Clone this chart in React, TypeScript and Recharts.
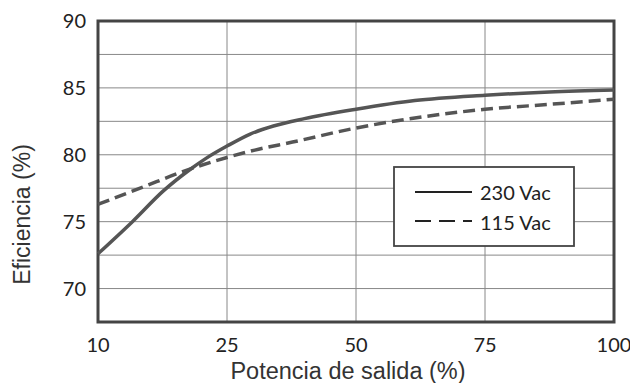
import { LineChart, Line, XAxis, YAxis, CartesianGrid, ReferenceArea, Legend, Label } from 'recharts';

// tick labels shown on the axes
const xTicks = [10, 25, 50, 75, 100];
const yTicks = [67.5, 70, 72.5, 75, 77.5, 80, 82.5, 85, 87.5, 90];

// 230 Vac curve (salida %, eficiencia %)
const load230 = [10, 14, 17.6, 20.7, 22.6, 25, 29.5, 34, 40, 50, 61.4, 75, 87.5, 100];
const eff230 = [72.6, 75.0, 77.3, 78.9, 79.75, 80.65, 81.55, 82.15, 82.7, 83.4, 84.05, 84.45, 84.7, 84.85];

// 115 Vac curve
const load115 = [10, 14.9, 20.1, 25, 30.4, 37.7, 50, 61.4, 75, 87.9, 100];
const eff115 = [76.3, 77.5, 78.8, 79.8, 80.35, 80.95, 82.0, 82.75, 83.4, 83.78, 84.15];

const LINE_COLOR = '#555';
const TICK_FONT = 'Lato, "Open Sans", sans-serif';
const TITLE_FONT = '"Liberation Sans", Arial, sans-serif';

// the x axis draws its ticks evenly spaced, so map a load % onto tick-index units
function toPos(load: number) {
  for (let i = 0; i < xTicks.length - 1; i++) {
    const a = xTicks[i];
    const b = xTicks[i + 1];
    if (load <= b) return i + (load - a) / (b - a);
  }
  return xTicks.length - 1;
}

const series = [
  { name: '230 Vac', data: load230.map((l, i) => ({ pos: toPos(l), eff: eff230[i] })), dash: undefined, legendDash: undefined },
  { name: '115 Vac', data: load115.map((l, i) => ({ pos: toPos(l), eff: eff115[i] })), dash: '12 6', legendDash: '16 8' },
];

const XTitle = ({ viewBox }: any) => (
  <text
    x={viewBox.x + viewBox.width / 2 - 8}
    y={viewBox.y + viewBox.height - 4}
    textAnchor="middle"
    fontFamily={TITLE_FONT}
    fontSize={23.5}
    fill="#333"
  >
    Potencia de salida (%)
  </text>
);

const YTitle = ({ viewBox }: any) => {
  const x = 30;
  const y = viewBox.y + viewBox.height / 2 + 43;
  return (
    <text
      x={x}
      y={y}
      transform={`rotate(-90, ${x}, ${y})`}
      textAnchor="middle"
      fontFamily={TITLE_FONT}
      fontSize={23}
      fill="#333"
    >
      Eficiencia (%)
    </text>
  );
};

const LegendBox = () => (
  <svg width={182} height={81} style={{ display: 'block' }}>
    <rect x={1} y={1} width={180} height={79} fill="#fff" stroke="#444" strokeWidth={1.8} />
    {series.map((s, i) => (
      <g key={s.name}>
        <line
          x1={22}
          x2={79}
          y1={26 + i * 29}
          y2={26 + i * 29}
          stroke="#222"
          strokeWidth={2}
          strokeDasharray={s.legendDash}
        />
        <text x={87} y={34 + i * 30} fontFamily={TICK_FONT} fontSize={20} fill="#222">
          {s.name}
        </text>
      </g>
    ))}
  </svg>
);

export default function App() {
  return (
    <div style={{ position: 'absolute', left: 0, top: 0, width: 630, height: 383, background: '#fff' }}>
      <LineChart width={630} height={383} margin={{ top: 21, right: 16, bottom: 0, left: 0 }}>
        <CartesianGrid stroke="#888" strokeWidth={1} />
        <XAxis
          type="number"
          dataKey="pos"
          domain={[0, xTicks.length - 1]}
          ticks={xTicks.map((_, i) => i)}
          tickFormatter={(v: number) => String(xTicks[v])}
          interval={0}
          axisLine={false}
          tickLine={false}
          tickSize={0}
          tickMargin={16}
          height={61}
          tick={{ fontFamily: TICK_FONT, fontSize: 20, fill: '#222' }}
        >
          <Label content={XTitle} />
        </XAxis>
        <YAxis
          type="number"
          domain={[67.5, 90]}
          ticks={yTicks}
          tickFormatter={(v: number) => (v % 5 === 0 ? String(v) : '')}
          interval={0}
          axisLine={false}
          tickLine={false}
          tickSize={0}
          tickMargin={12}
          width={98}
          tick={{ fontFamily: TICK_FONT, fontSize: 20, fill: '#222' }}
        >
          <Label content={YTitle} />
        </YAxis>
        {series.map((s) => (
          <Line
            key={s.name}
            name={s.name}
            data={s.data}
            dataKey="eff"
            type="monotone"
            stroke={LINE_COLOR}
            strokeWidth={3.5}
            strokeDasharray={s.dash}
            dot={false}
            activeDot={false}
            isAnimationActive={false}
          />
        ))}
        <ReferenceArea
          x1={0}
          x2={xTicks.length - 1}
          y1={67.5}
          y2={90}
          fill="none"
          fillOpacity={0}
          stroke="#444"
          strokeWidth={3}
        />
        <Legend
          layout="vertical"
          align="center"
          verticalAlign="middle"
          content={LegendBox}
          wrapperStyle={{ left: 393, top: 166, width: 182, height: 81 }}
        />
      </LineChart>
    </div>
  );
}
